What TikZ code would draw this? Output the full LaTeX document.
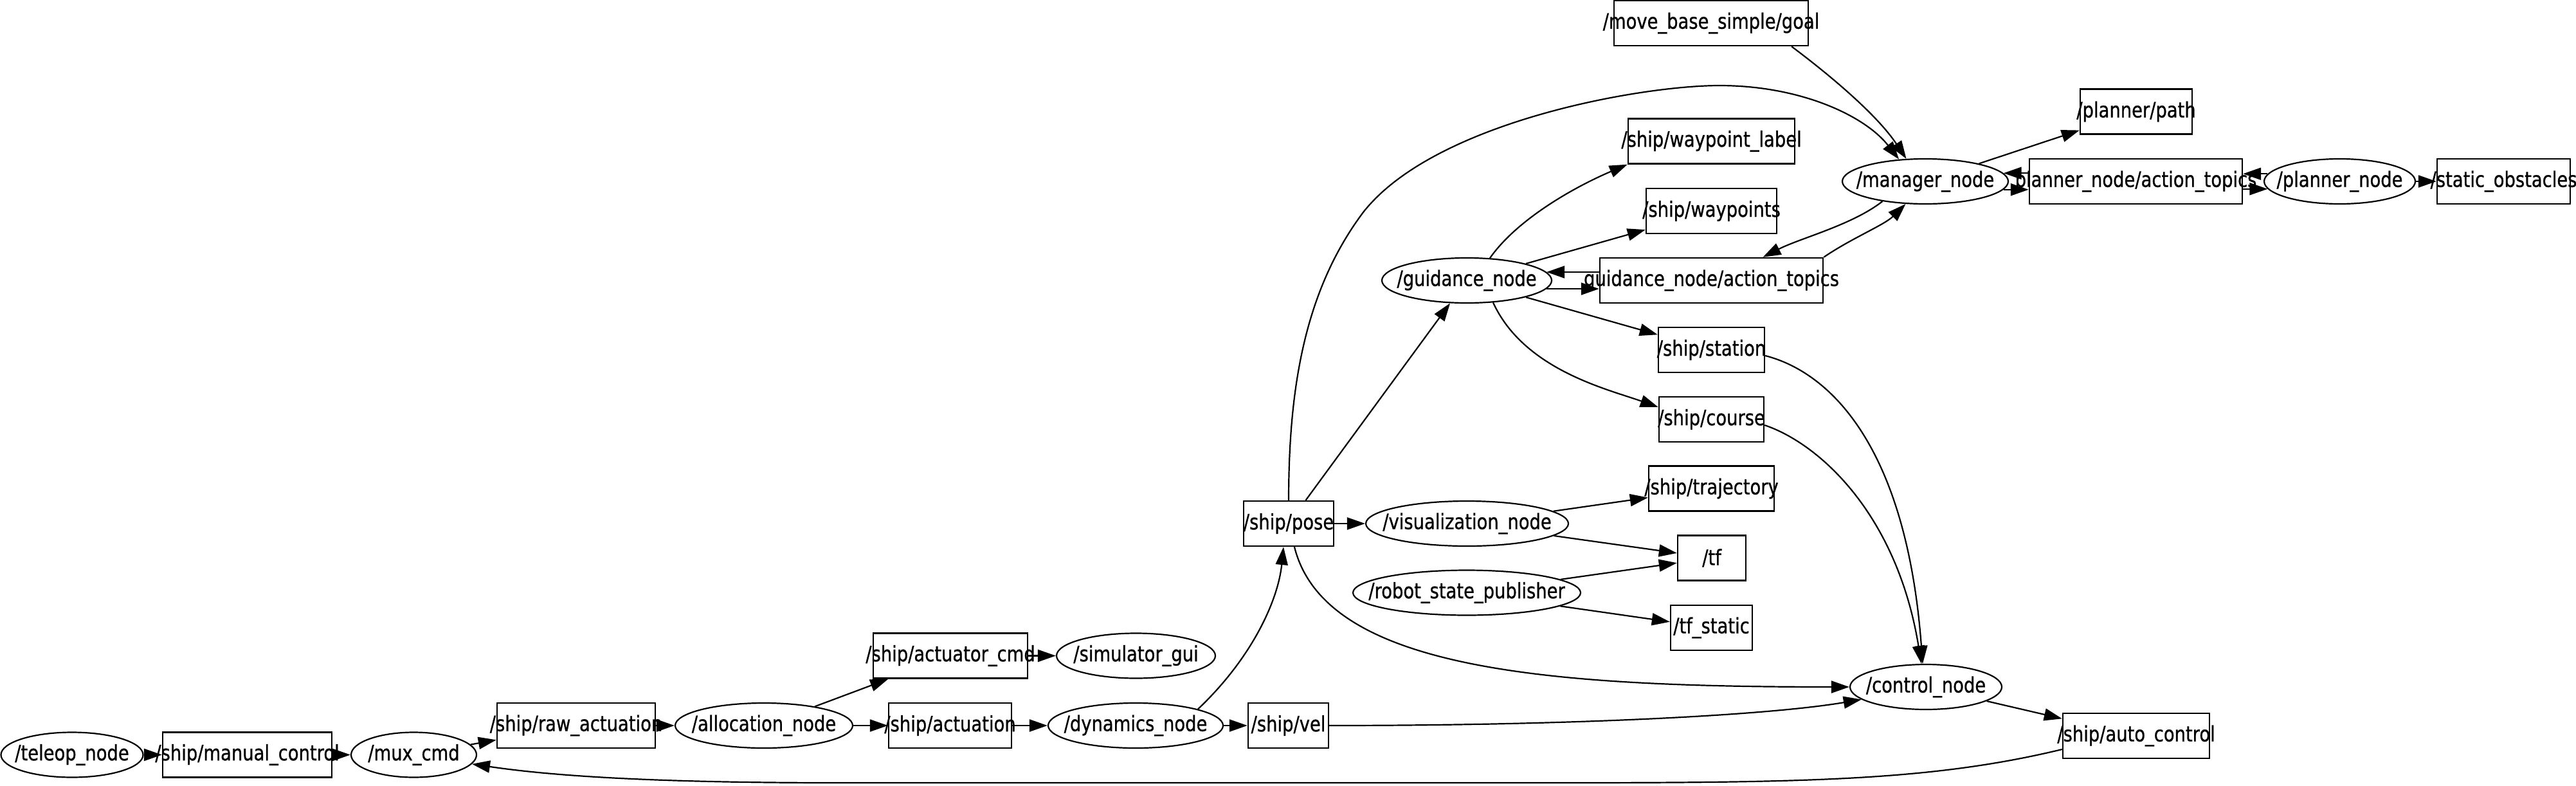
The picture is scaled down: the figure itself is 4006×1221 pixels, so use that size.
\documentclass[tikz,border=0pt]{standalone}
\usepackage{fontspec}
\setmainfont{DejaVu Sans}[FakeStretch=0.83,FakeBold=0.8]
\usetikzlibrary{arrows.meta,shapes.geometric,calc}
\newcommand{\lbl}[1]{\makebox[0pt][c]{#1}}
\begin{document}
\begin{tikzpicture}[x=1pt,y=-1pt,
  every node/.style={font=\fontsize{33}{39}\selectfont},
  tbox/.style={draw,rectangle,line width=2.4pt,minimum height=70pt,inner sep=0pt,minimum width=#1},
  tell/.style={draw,ellipse,line width=2.2pt,minimum height=70pt,inner sep=0pt,minimum width=#1},
  edge/.style={line width=2.2pt,-{Triangle[length=28pt,width=19pt]}}]
\fill[white] (0,0) rectangle (4006,1221);
\useasboundingbox (0,0) rectangle (4006,1221);
% topics (boxes)
\node[tbox=263pt] (manual) at (384.5,1173.5) {\lbl{/ship/manual\_control}};
\node[tbox=246pt] (rawact) at (896,1128) {\lbl{/ship/raw\_actuation}};
\node[tbox=240pt] (actcmd) at (1478,1019.5) {\lbl{/ship/actuator\_cmd}};
\node[tbox=191pt] (actuation) at (1477.5,1128) {\lbl{/ship/actuation}};
\node[tbox=125pt] (vel) at (2003.5,1128) {\lbl{/ship/vel}};
\node[tbox=140pt] (pose) at (2004,814) {\lbl{/ship/pose}};
\node[tbox=195pt] (traj) at (2661.5,759.5) {\lbl{/ship/trajectory}};
\node[tbox=106pt] (tf) at (2662,867.5) {\lbl{/tf}};
\node[tbox=127pt] (tfstatic) at (2661.5,976) {\lbl{/tf\_static}};
\node[tbox=228pt] (auto) at (3322,1144) {\lbl{/ship/auto\_control}};
\node[tbox=347pt] (gat) at (2661.5,436) {\lbl{guidance\_node/action\_topics}};
\node[tbox=165pt] (station) at (2661.5,544) {\lbl{/ship/station}};
\node[tbox=163pt] (course) at (2661.5,652) {\lbl{/ship/course}};
\node[tbox=302pt] (goal) at (2661,36) {\lbl{/move\_base\_simple/goal}};
\node[tbox=259pt] (wplabel) at (2661.5,219.5) {\lbl{/ship/waypoint\_label}};
\node[tbox=203pt] (wps) at (2661.5,328) {\lbl{/ship/waypoints}};
\node[tbox=331pt] (pat) at (3321.5,282) {\lbl{planner\_node/action\_topics}};
\node[tbox=174pt] (path) at (3322,173.5) {\lbl{/planner/path}};
\node[tbox=207pt] (static) at (3893.5,282) {\lbl{/static\_obstacles}};
% nodes (ellipses)
\node[tell=221pt] (teleop) at (112,1173.5) {\lbl{/teleop\_node}};
\node[tell=195pt] (mux) at (643.5,1173.5) {\lbl{/mux\_cmd}};
\node[tell=276pt] (alloc) at (1188,1128) {\lbl{/allocation\_node}};
\node[tell=247pt] (simgui) at (1766.5,1019.5) {\lbl{/simulator\_gui}};
\node[tell=272pt] (dyn) at (1766,1128) {\lbl{/dynamics\_node}};
\node[tell=315pt] (vis) at (2281.5,814) {\lbl{/visualization\_node}};
\node[tell=354pt] (rsp) at (2281,921.5) {\lbl{/robot\_state\_publisher}};
\node[tell=236pt] (control) at (2995,1068) {\lbl{/control\_node}};
\node[tell=264pt] (guidance) at (2281,436) {\lbl{/guidance\_node}};
\node[tell=258pt] (manager) at (2994,282) {\lbl{/manager\_node}};
\node[tell=235pt] (planner) at (3638.5,282) {\lbl{/planner\_node}};
% edges
\draw[edge] (teleop) -- (manual);
\draw[edge] (manual) -- (mux);
\draw[edge] (mux) -- (rawact);
\draw[edge] (rawact) -- (alloc);
\draw[edge] (alloc) -- (actcmd);
\draw[edge] (alloc) -- (actuation);
\draw[edge] (actcmd) -- (simgui);
\draw[edge] (actuation) -- (dyn);
\draw[edge] (dyn) -- (vel);
\draw[edge] (dyn.north east) .. controls (1950,1020) and (1988,930) .. ([xshift=-8pt]pose.south);
\draw[edge] (vel.east) .. controls (2450,1128) and (2750,1112) .. (control.191);
\draw[edge] (pose) -- (vis);
\draw[edge] (pose) -- (guidance);
\draw[edge] (pose.north) .. controls (2004,600) and (2030,450) .. (2120,330)
   .. controls (2230,190) and (2550,133) .. (2674,133)
   .. controls (2800,133) and (2900,180) .. (manager.140);
\draw[edge] (pose) .. controls (2060,1040) and (2400,1068) .. (control.west);
\draw[edge] (vis) -- (traj);
\draw[edge] (vis) -- (tf);
\draw[edge] (rsp) -- (tf);
\draw[edge] (rsp) -- (tfstatic);
\draw[edge] (guidance.44) .. controls (2360,340) and (2450,290) .. (wplabel.south west);
\draw[edge] (guidance) -- (wps);
\draw[edge] (guidance.-6) -- (guidance.-6 -| gat.west);
\draw[edge] (guidance.6 -| gat.west) -- (guidance.6);
\draw[edge] (guidance) -- (station);
\draw[edge] (guidance.-40) .. controls (2370,575) and (2500,605) .. ([yshift=19pt]course.west);
\draw[edge] ([yshift=-9pt]station.east) .. controls (2850,580) and (2965,700) .. ([xshift=-5pt]control.north);
\draw[edge] ([yshift=-9pt]course.east) .. controls (2830,690) and (2950,800) .. ([xshift=-7pt]control.north);
\draw[edge] (manager.205) .. controls (2880,350) and (2800,370) .. ([xshift=80pt]gat.north);
\draw[edge] (gat.north east) .. controls (2880,370) and (2930,350) .. (manager.229);
\draw[edge] ([xshift=125pt]goal.south) .. controls (2850,120) and (2920,180) .. (manager.130);
\draw[edge] (manager) -- (path);
\draw[edge] (manager.-6) -- (manager.-6 -| pat.west);
\draw[edge] (manager.6 -| pat.west) -- (manager.6);
\draw[edge] (planner.174) -- (planner.174 -| pat.east);
\draw[edge] (planner.186 -| pat.east) -- (planner.186);
\draw[edge] (planner) -- (static);
\draw[edge] (control) -- (auto);
\draw[edge] ([yshift=-21pt]auto.west) .. controls (3000,1215) and (2800,1217) .. (2400,1217)
   -- (1300,1217) .. controls (1000,1217) and (850,1205) .. (mux.-9);
\end{tikzpicture}
\end{document}
